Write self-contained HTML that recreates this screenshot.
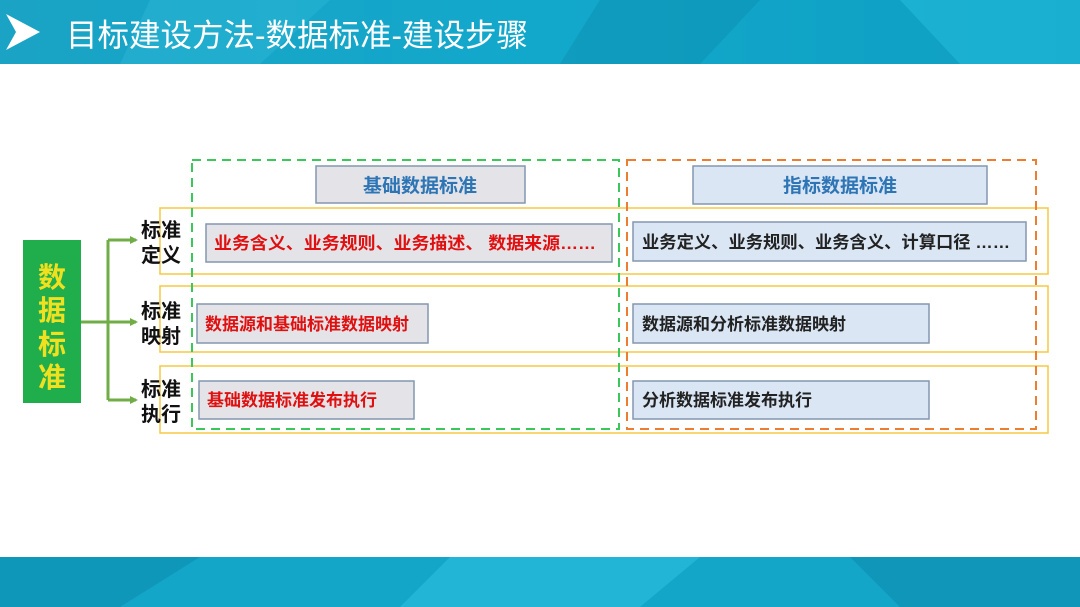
<!DOCTYPE html>
<html><head><meta charset="utf-8"><style>
html,body{margin:0;padding:0;width:1080px;height:607px;overflow:hidden;background:#fff}
svg{display:block}
text{font-family:"Liberation Sans","Noto Sans CJK SC",sans-serif;font-weight:bold}
</style></head><body>
<svg width="1080" height="607" viewBox="0 0 1080 607" xmlns="http://www.w3.org/2000/svg">
<defs>
<linearGradient id="tb" x1="0" y1="0" x2="1" y2="0">
<stop offset="0" stop-color="#1aa3c4"/><stop offset="0.5" stop-color="#12a8cc"/><stop offset="1" stop-color="#0f9fc2"/>
</linearGradient>
<marker id="ar" markerWidth="8" markerHeight="8" refX="6" refY="4" orient="auto" markerUnits="userSpaceOnUse"><path d="M0,0 L8,4 L0,8 z" fill="#70ad47"/></marker>
</defs>
<rect x="0" y="0" width="1080" height="64" fill="url(#tb)"/>
<polygon points="150,0 330,0 260,64 120,64" fill="#2bb6d6" opacity="0.5"/>
<polygon points="600,0 760,0 700,64 560,64" fill="#0b8fb0" opacity="0.5"/>
<polygon points="900,0 1080,0 1080,64 960,64" fill="#25c0e0" opacity="0.5"/>
<polygon points="6,14 40,32 6,50 16,32" fill="#fff"/>
<text x="66" y="46" font-size="31.5" fill="#fff" style="font-weight:normal">目标建设方法-数据标准-建设步骤</text>
<rect x="0" y="557" width="1080" height="50" fill="#14a6c8"/>
<polygon points="0,557 200,557 120,607 0,607" fill="#0c8db0" opacity="0.6"/>
<polygon points="450,557 700,557 640,607 400,607" fill="#2fc3e2" opacity="0.5"/>
<polygon points="850,557 1080,557 1080,607 900,607" fill="#0a86a8" opacity="0.5"/>

<g fill="none" stroke="#f5c842" stroke-width="1.5">
<rect x="160" y="208" width="888" height="66"/>
<rect x="160" y="286" width="888" height="66"/>
<rect x="160" y="366" width="888" height="67"/>
</g>
<rect x="192" y="160" width="427" height="269" fill="none" stroke="#3cc75a" stroke-width="2" stroke-dasharray="9,6"/>
<rect x="627" y="160" width="409" height="269" fill="none" stroke="#ed7d31" stroke-width="2" stroke-dasharray="9,6"/>

<rect x="316" y="166" width="209" height="37" fill="#e4e4e8" stroke="#8496b0" stroke-width="1.5"/>
<text x="420" y="192" font-size="19" fill="#2e75b6" text-anchor="middle">基础数据标准</text>
<rect x="693" y="166" width="294" height="38" fill="#dae6f4" stroke="#8496b0" stroke-width="1.5"/>
<text x="840" y="192" font-size="19" fill="#2e75b6" text-anchor="middle">指标数据标准</text>

<g fill="#e4e4e8" stroke="#8496b0" stroke-width="1.5">
<rect x="206" y="224" width="406" height="38"/>
<rect x="197" y="304" width="231" height="39"/>
<rect x="199" y="381" width="215" height="38"/>
</g>
<g font-size="17" fill="#e01010">
<text x="214" y="249" textLength="382" lengthAdjust="spacingAndGlyphs">业务含义、业务规则、业务描述、 数据来源……</text>
<text x="205" y="330">数据源和基础标准数据映射</text>
<text x="207" y="406">基础数据标准发布执行</text>
</g>
<g fill="#dae6f4" stroke="#8496b0" stroke-width="1.5">
<rect x="633" y="222" width="393" height="39"/>
<rect x="633" y="304" width="296" height="39"/>
<rect x="633" y="381" width="296" height="38"/>
</g>
<g font-size="17" fill="#222">
<text x="642" y="248" textLength="368" lengthAdjust="spacingAndGlyphs">业务定义、业务规则、业务含义、计算口径 ……</text>
<text x="642" y="330">数据源和分析标准数据映射</text>
<text x="642" y="406">分析数据标准发布执行</text>
</g>

<rect x="23" y="240" width="58" height="163" fill="#1fae4b"/>
<g font-size="28" fill="#f0e020" text-anchor="middle">
<text x="52" y="287">数</text><text x="52" y="320">据</text><text x="52" y="354">标</text><text x="52" y="387">准</text>
</g>
<g stroke="#70ad47" stroke-width="3" fill="none">
<line x1="81" y1="322" x2="108" y2="322"/>
<line x1="108" y1="240" x2="108" y2="400"/>
<line x1="108" y1="240" x2="136" y2="240" marker-end="url(#ar)"/>
<line x1="108" y1="322" x2="136" y2="322" marker-end="url(#ar)"/>
<line x1="108" y1="400" x2="136" y2="400" marker-end="url(#ar)"/>
</g>
<g font-size="20" fill="#111">
<text x="141" y="237">标准</text><text x="141" y="262">定义</text>
<text x="141" y="318">标准</text><text x="141" y="343">映射</text>
<text x="141" y="396">标准</text><text x="141" y="421">执行</text>
</g>
</svg>
</body></html>
